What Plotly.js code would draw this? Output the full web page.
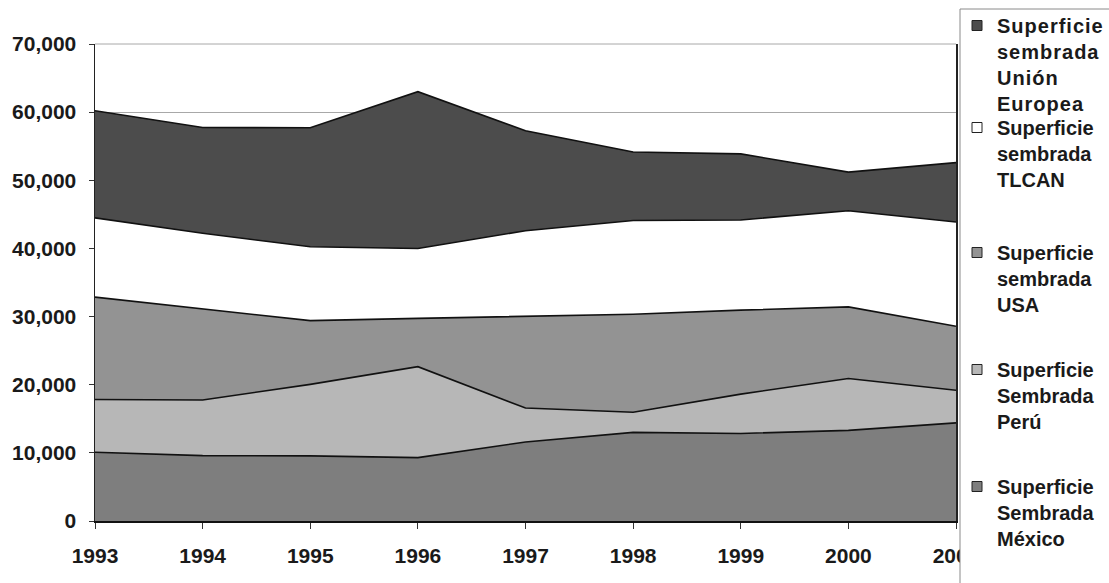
<!DOCTYPE html>
<html>
<head>
<meta charset="utf-8">
<script src="https://cdn.plot.ly/plotly-3.0.1.min.js"></script>
<style>
  html, body { margin: 0; padding: 0; background: #fff; }
  #chart { width: 1109px; height: 583px; }
  .legendtext { letter-spacing: 1px; }
</style>
</head>
<body>
<div id="chart"></div>
<script>
// Years (x categories)
const years = [1993, 1994, 1995, 1996, 1997, 1998, 1999, 2000, 2001];

// Series values (individual layers, stacked bottom to top)
const mexico = [10100, 9600, 9550, 9300, 11600, 13000, 12850, 13300, 14400];
const peru   = [7720, 8160, 10500, 13350, 4980, 2970, 5770, 7620, 4790];
const usa    = [15030, 13350, 9350, 7080, 13490, 14380, 12320, 10500, 9390];
const tlcan  = [11630, 11110, 10850, 10270, 12530, 13740, 13240, 14100, 15300];
const ue     = [15720, 15530, 17450, 23000, 14680, 10050, 9700, 5680, 8710];

// Legend labels
const nameMexico = "Superficie<br>Sembrada<br>México";
const namePeru   = "Superficie<br>Sembrada<br>Perú";
const nameUsa    = "Superficie<br>sembrada<br>USA";
const nameTlcan  = "Superficie<br>sembrada<br>TLCAN";
const nameUe     = "Superficie<br>sembrada<br>Unión<br>Europea";

const colMexico = '#7e7e7e';
const colPeru   = '#b7b7b7';
const colUsa    = '#939393';
const colTlcan  = '#ffffff';
const colUe     = '#4c4c4c';

const edge = {color: '#111111', width: 1.6};

function area(y, fill) {
  return {x: years, y: y, type: 'scatter', mode: 'lines', stackgroup: 'one',
          line: edge, fillcolor: fill, showlegend: false, hoverinfo: 'skip'};
}
function legendEntry(name, fill, leg) {
  return {x: [null], y: [null], type: 'scatter', mode: 'markers', name: name,
          legend: leg, showlegend: true,
          marker: {symbol: 'square', size: 10, color: fill, line: {color: '#222', width: 1}}};
}

const data = [
  area(mexico, colMexico),
  area(peru, colPeru),
  area(usa, colUsa),
  area(tlcan, colTlcan),
  area(ue, colUe),
  legendEntry(nameUe, colUe, 'legend'),
  legendEntry(nameTlcan, colTlcan, 'legend2'),
  legendEntry(nameUsa, colUsa, 'legend3'),
  legendEntry(namePeru, colPeru, 'legend4'),
  legendEntry(nameMexico, colMexico, 'legend5')
];

const FONT = "Arial, 'Liberation Sans', sans-serif";
const plotTop = 44, plotBottom = 521, plotLeft = 95, plotRight = 956;
const H = plotBottom - plotTop, W = plotRight - plotLeft;
const py = Y => (plotBottom - Y) / H;
const px = X => (X - plotLeft) / W;

function legendAt(topPx) {
  return {x: px(957), xanchor: 'left', y: py(topPx), yanchor: 'top',
          bgcolor: 'rgba(0,0,0,0)', borderwidth: 0, valign: 'top',
          font: {family: FONT, size: 20, weight: 700, color: '#1a1a1a'}};
}

const layout = {
  width: 1109, height: 583,
  margin: {l: plotLeft, r: 1109 - plotRight, t: plotTop, b: 583 - plotBottom, autoexpand: false},
  paper_bgcolor: '#ffffff', plot_bgcolor: '#ffffff',
  showlegend: true,
  xaxis: {
    range: [1993, 2001], tickvals: years, ticktext: years.map(String),
    showgrid: false, zeroline: false,
    showline: true, linecolor: '#111', linewidth: 1.5,
    ticks: 'outside', ticklen: 6, tickcolor: '#333', tickwidth: 1,
    tickfont: {family: FONT, size: 21, weight: 700, color: '#1a1a1a'},
    ticklabelstandoff: 9
  },
  yaxis: {
    range: [0, 70000], dtick: 10000, tickformat: ',d',
    showgrid: true, gridcolor: '#a8a8a8', gridwidth: 1, zeroline: false,
    showline: true, mirror: true, linecolor: '#222', linewidth: 1.5,
    ticks: 'outside', ticklen: 5, tickcolor: '#333', tickwidth: 1,
    tickfont: {family: FONT, size: 21, weight: 700, color: '#1a1a1a'},
    ticklabelstandoff: 8
  },
  legend: legendAt(6),
  legend2: legendAt(108),
  legend3: legendAt(233),
  legend4: legendAt(350),
  legend5: legendAt(467),
  shapes: [
    {type: 'line', xref: 'paper', yref: 'paper', layer: 'below',
     x0: 0, x1: 1, y0: 1, y1: 1, line: {color: '#a8a8a8', width: 1}},
    {type: 'rect', xref: 'paper', yref: 'paper', layer: 'above',
     x0: px(960), x1: px(1120), y0: py(600), y1: py(9),
     fillcolor: '#ffffff', line: {color: '#8a8a8a', width: 1}}
  ]
};

Plotly.newPlot('chart', data, layout, {staticPlot: true, displayModeBar: false});
</script>
</body>
</html>
